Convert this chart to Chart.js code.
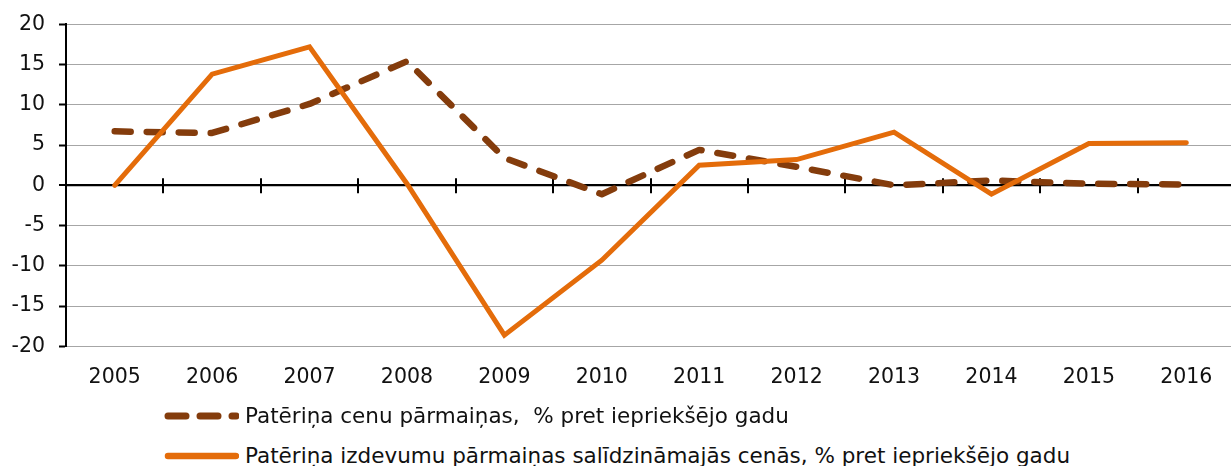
<!DOCTYPE html>
<html>
<head>
<meta charset="utf-8">
<script src="https://cdn.jsdelivr.net/npm/chart.js@4/dist/chart.umd.min.js"></script>
<style>
  html, body { margin: 0; padding: 0; background: #fff; }
  #wrap { position: relative; width: 1231px; height: 466px; overflow: hidden; font-family: "DejaVu Sans", Verdana, sans-serif; }
  #c { position: absolute; left: 0; top: 0; }
  .leg { position: absolute; left: 164px; height: 26px; line-height: 26px; font-size: 21.5px; color: #111; white-space: pre; display: flex; align-items: center; }
  .leg svg { margin-right: 6px; flex: none; }
</style>
</head>
<body>
<div id="wrap">
  <canvas id="c" width="1235" height="412"></canvas>
  <div class="leg" style="top:403px">
    <svg width="75" height="12"><line x1="4" y1="6" x2="72" y2="6" stroke="#843C0C" stroke-width="7" stroke-linecap="round" stroke-dasharray="18 14"/></svg><span id="l1"></span>
  </div>
  <div class="leg" style="top:443px">
    <svg width="75" height="12"><line x1="4" y1="6" x2="72" y2="6" stroke="#E46C0A" stroke-width="6.5" stroke-linecap="round"/></svg><span id="l2"></span>
  </div>
</div>
<script>
const categories = ["2005","2006","2007","2008","2009","2010","2011","2012","2013","2014","2015","2016"];
const priceChange = [6.7, 6.5, 10.1, 15.4, 3.4, -1.1, 4.4, 2.3, 0.0, 0.6, 0.2, 0.1];
const spendingChange = [0.0, 13.8, 17.2, 0.2, -18.6, -9.3, 2.5, 3.2, 6.6, -1.1, 5.2, 5.3];
const seriesNames = [
  "Patēriņa cenu pārmaiņas,  % pret iepriekšējo gadu",
  "Patēriņa izdevumu pārmaiņas salīdzināmajās cenās, % pret iepriekšējo gadu"
];
const yTicks = [-20, -15, -10, -5, 0, 5, 10, 15, 20];

document.getElementById('l1').textContent = seriesNames[0];
document.getElementById('l2').textContent = seriesNames[1];

const FONT = '"DejaVu Sans", Verdana, sans-serif';

const zeroAxisPlugin = {
  id: 'zeroAxis',
  beforeDatasetsDraw(chart) {
    const ctx = chart.ctx, x = chart.scales.x, y = chart.scales.y;
    const y0 = y.getPixelForValue(0);
    const ca = chart.chartArea;
    ctx.save();
    ctx.strokeStyle = '#000';
    ctx.lineWidth = 2;
    ctx.beginPath();
    ctx.moveTo(ca.left, y0);
    ctx.lineTo(ca.right, y0);
    const n = categories.length;
    for (let i = 1; i < n; i++) {
      const px = Math.round((x.getPixelForValue(i - 1) + x.getPixelForValue(i)) / 2);
      ctx.moveTo(px, y0 - 7);
      ctx.lineTo(px, y0 + 8);
    }
    ctx.stroke();
    ctx.restore();
  }
};

new Chart(document.getElementById('c'), {
  type: 'line',
  data: {
    labels: categories,
    datasets: [
      {
        label: seriesNames[0],
        data: priceChange,
        borderColor: '#843C0C',
        backgroundColor: '#843C0C',
        borderWidth: 6.5,
        borderDash: [16, 16],
        borderCapStyle: 'round',
        borderJoinStyle: 'round',
        pointRadius: 0,
        tension: 0,
        order: 1
      },
      {
        label: seriesNames[1],
        data: spendingChange,
        borderColor: '#E46C0A',
        backgroundColor: '#E46C0A',
        borderWidth: 5,
        borderCapStyle: 'round',
        borderJoinStyle: 'miter',
        pointRadius: 0,
        tension: 0,
        order: 0
      }
    ]
  },
  options: {
    responsive: false,
    animation: false,
    layout: { padding: { top: 21, right: 0, bottom: 3, left: 0 } },
    plugins: { legend: { display: false }, tooltip: { enabled: false } },
    scales: {
      x: {
        offset: true,
        grid: { display: false, drawTicks: false },
        border: { display: false },
        ticks: { color: '#111', padding: 19, font: { family: FONT, size: 20.5 }, maxRotation: 0, autoSkip: false }
      },
      y: {
        min: yTicks[0],
        max: yTicks[yTicks.length - 1],
        afterBuildTicks(scale) { scale.ticks = yTicks.map(v => ({ value: v })); },
        afterFit(scale) { scale.width = 66; },
        grid: {
          color: ctx => (ctx.tick && ctx.tick.value === 0) ? '#000' : '#A6A6A6',
          lineWidth: ctx => (ctx.tick && ctx.tick.value === 0) ? 2 : 1,
          tickColor: '#000',
          tickLength: 7,
          tickWidth: 2
        },
        border: { display: true, color: '#000', width: 2 },
        ticks: { color: '#111', padding: 14, font: { family: FONT, size: 20.5, lineHeight: 1 } }
      }
    }
  },
  plugins: [zeroAxisPlugin]
});
</script>
</body>
</html>
